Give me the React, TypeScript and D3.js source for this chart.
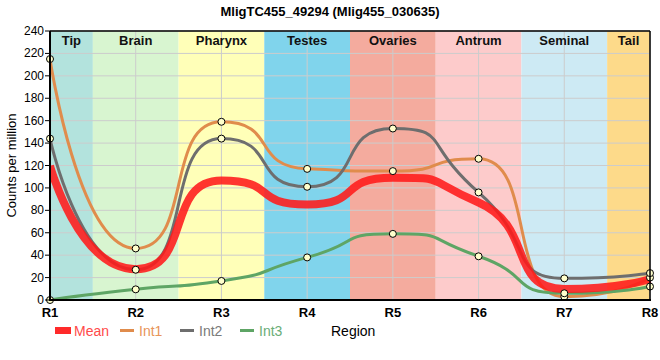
import React from "react";
import * as d3 from "d3";

const regions = ["R1", "R2", "R3", "R4", "R5", "R6", "R7", "R8"];
const bandLabels = ["Tip", "Brain", "Pharynx", "Testes", "Ovaries", "Antrum", "Seminal", "Tail"];
const bandColors = ["#b3e3dd", "#d8f5d0", "#ffffb8", "#80d4ec", "#f4ab9e", "#fdcbcb", "#cdeaf4", "#fdda8a"];
const meanValues = [119.7, 27.5, 106.7, 85.3, 109, 87, 9.8, 18.8];
const int1Values = [215, 46, 159, 117, 115, 126, 3, 20];
const int2Values = [144, 27, 144, 101, 153, 96, 19.3, 24];
const int3Values = [0, 9.5, 17, 38, 59, 39, 6, 12];
const yTicks = [0, 20, 40, 60, 80, 100, 120, 140, 160, 180, 200, 220, 240];

const W = 660, H = 360;
const L = 50, R = 650, T = 31, B = 300;

// Spline through points; control handles reach 2/3 of the way to the neighbours,
// aligned through each point and clamped to avoid false extremes.
function splinePath(pts: [number, number][]): string {
  const path = d3.path();
  const sm = 0.5, den = sm + 1;
  const ctrl = pts.map((p, i) => {
    const prev = pts[i - 1], next = pts[i + 1];
    if (!prev || !next) return { lx: p[0], ly: p[1], rx: p[0], ry: p[1] };
    const [px, py] = p;
    const lx = (sm * px + prev[0]) / den;
    let ly = (sm * py + prev[1]) / den;
    const rx = (sm * px + next[0]) / den;
    let ry = (sm * py + next[1]) / den;
    let corr = 0;
    if (rx !== lx) corr = ((ry - ly) * (rx - px)) / (rx - lx) + py - ry;
    ly += corr;
    ry += corr;
    if (ly > prev[1] && ly > py) {
      ly = Math.max(prev[1], py);
      ry = 2 * py - ly;
    } else if (ly < prev[1] && ly < py) {
      ly = Math.min(prev[1], py);
      ry = 2 * py - ly;
    }
    if (ry > next[1] && ry > py) {
      ry = Math.max(next[1], py);
      ly = 2 * py - ry;
    } else if (ry < next[1] && ry < py) {
      ry = Math.min(next[1], py);
      ly = 2 * py - ry;
    }
    return { lx, ly, rx, ry };
  });
  pts.forEach((p, i) => {
    if (i === 0) path.moveTo(p[0], p[1]);
    else {
      const a = ctrl[i - 1], b = ctrl[i];
      path.bezierCurveTo(a.rx, a.ry, b.lx, b.ly, p[0], p[1]);
    }
  });
  return path.toString();
}

export default function App() {
  const x = d3.scalePoint<string>().domain(regions).range([L, R]);
  const y = d3.scaleLinear().domain([0, 240]).range([B, T]);
  const step = x.step();
  const toPts = (vals: number[]) => vals.map((v, i) => [x(regions[i]) as number, y(v)] as [number, number]);

  const intSeries = [
    { name: "Int1", values: int1Values, color: "#e08c4c", text: "#e8955a" },
    { name: "Int2", values: int2Values, color: "#6e6e6e", text: "#7a7a7a" },
    { name: "Int3", values: int3Values, color: "#5ea565", text: "#6aad78" },
  ];

  const font = "Liberation Sans, Arial, sans-serif";

  return (
    <svg width={W} height={H} style={{ position: "absolute", left: 0, top: 0 }} fontFamily={font}>
      <defs>
        <clipPath id="plotClip">
          <rect x={L} y={T} width={R - L + 6} height={B - T + 6} />
        </clipPath>
      </defs>
      <rect x={0} y={0} width={W} height={H} fill="#fff" />
      <text x={330} y={16} textAnchor="middle" fontSize={13} fontWeight="bold">
        MligTC455_49294 (Mlig455_030635)
      </text>
      {regions.map((r, i) => {
        const cx = x(r) as number;
        const x0 = Math.max(L, cx - step / 2);
        const x1 = Math.min(R, cx + step / 2);
        return <rect key={r} x={x0} y={T} width={x1 - x0} height={B - T} fill={bandColors[i]} />;
      })}
      {yTicks.map((t) => (
        <line key={"gy" + t} x1={L} x2={R} y1={y(t)} y2={y(t)} stroke="#cccccc" strokeWidth={1} />
      ))}
      {regions.map((r) => (
        <line key={"gx" + r} x1={x(r)} x2={x(r)} y1={T} y2={B} stroke="#cccccc" strokeWidth={1} />
      ))}
      {regions.map((r, i) => {
        const cx = x(r) as number;
        const x0 = Math.max(L, cx - step / 2);
        const x1 = Math.min(R, cx + step / 2);
        return (
          <text key={"bl" + r} x={(x0 + x1) / 2} y={45} textAnchor="middle" fontSize={13} fontWeight="bold" fill="#111">
            {bandLabels[i]}
          </text>
        );
      })}
      <g clipPath="url(#plotClip)">
        {intSeries.map((s) => (
          <path key={s.name} d={splinePath(toPts(s.values))} fill="none" stroke={s.color} strokeWidth={3} />
        ))}
        <path d={splinePath(toPts(meanValues))} fill="none" stroke="#ff1a1a" strokeWidth={8} strokeOpacity={0.88} />
      </g>
      {intSeries.map((s) =>
        s.values.map((v, i) => (
          <circle key={s.name + i} cx={x(regions[i])} cy={y(v)} r={3.5} fill="#ffffcc" stroke="#000" strokeWidth={1} />
        ))
      )}
      <line x1={L} x2={R} y1={T} y2={T} stroke="#000" strokeWidth={1.5} />
      <line x1={R} x2={R} y1={T} y2={B} stroke="#000" strokeWidth={1.5} />
      <line x1={L} x2={L} y1={T} y2={B + 1} stroke="#000" strokeWidth={2} />
      <line x1={L - 1} x2={R + 1} y1={B} y2={B} stroke="#000" strokeWidth={2} />
      {yTicks.map((t) => (
        <g key={"yt" + t}>
          <line x1={L - 5} x2={L} y1={y(t)} y2={y(t)} stroke="#000" strokeWidth={1} />
          <text x={L - 6} y={y(t) + 4} textAnchor="end" fontSize={12} fill="#000">
            {t}
          </text>
        </g>
      ))}
      {regions.map((r) => (
        <text key={"xt" + r} x={x(r)} y={317} textAnchor="middle" fontSize={13} fontWeight="bold" fill="#000">
          {r}
        </text>
      ))}
      <text transform={`translate(16,${(T + B) / 2}) rotate(-90)`} textAnchor="middle" fontSize={13} fill="#000">
        Counts per million
      </text>
      <rect x={55} y={327} width={16} height={7} fill="#ff2a2a" />
      <text x={74} y={336} fontSize={14} fill="#ff4a4a">Mean</text>
      {intSeries.map((s, i) => (
        <g key={"lg" + s.name}>
          <line x1={120 + i * 60} x2={134 + i * 60} y1={330.5} y2={330.5} stroke={s.color} strokeWidth={3} />
          <text x={139 + i * 60} y={336} fontSize={14} fill={s.text}>{s.name}</text>
        </g>
      ))}
      <text x={331} y={336} fontSize={14} fill="#000">Region</text>
    </svg>
  );
}
